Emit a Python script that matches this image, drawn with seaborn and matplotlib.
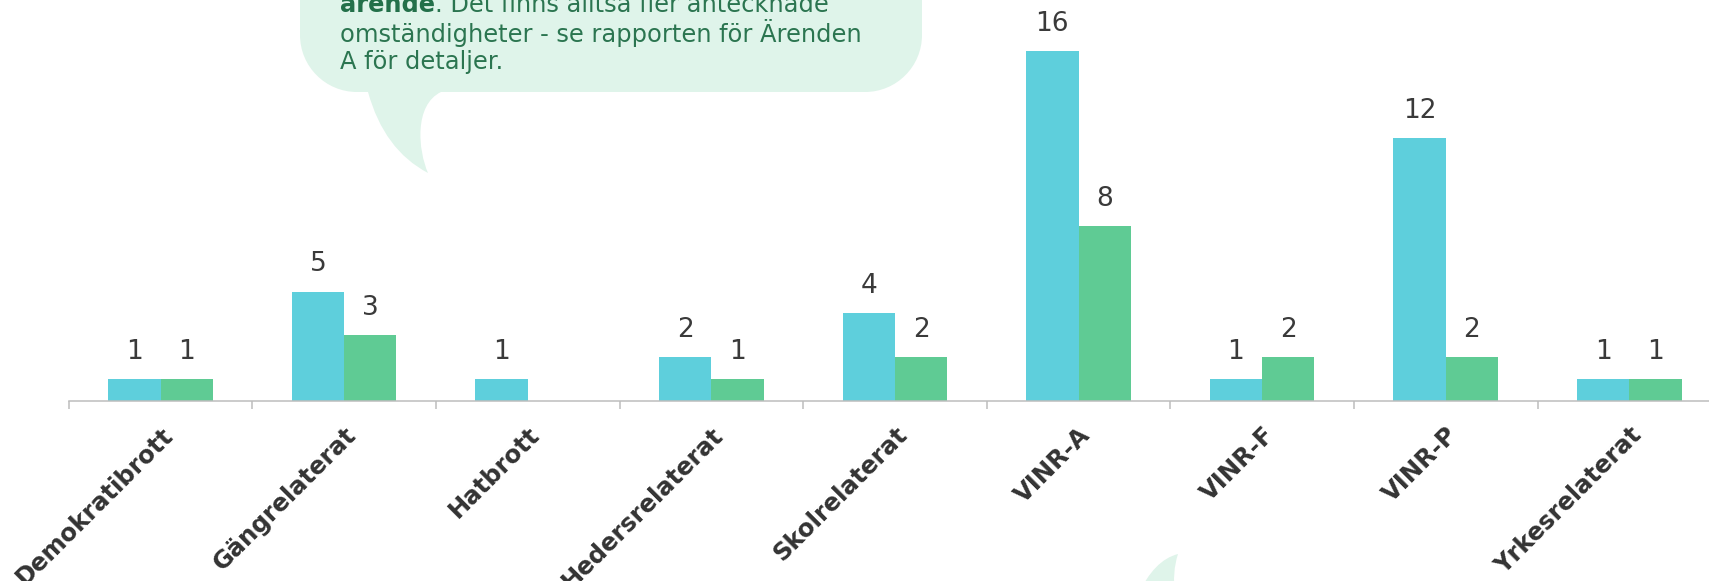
import numpy as np
import pandas as pd
import seaborn as sns
import matplotlib
matplotlib.use("Agg")
import matplotlib.pyplot as plt
from matplotlib.path import Path
from matplotlib.patches import PathPatch
from matplotlib.transforms import Affine2D
from matplotlib.text import Annotation

# ---- data ----
categories = ["Demokratibrott", "Gängrelaterat", "Hatbrott", "Hedersrelaterat",
              "Skolrelaterat", "VINR-A", "VINR-F", "VINR-P", "Yrkesrelaterat"]
series_names = ["Serie 1", "Serie 2"]
values_a = [1, 5, 1, 2, 4, 16, 1, 12, 1]
values_b = [1, 3, 0, 1, 2, 8, 2, 2, 1]
bubble_bold = "ärende"
bubble_line1_rest = ". Det finns alltså fler antecknade"
bubble_line2 = "omständigheter - se rapporten för Ärenden"
bubble_line3 = "A för detaljer."

# ---- style ----
CYAN = "#5ecfdc"
GREEN = "#5fcb94"
TXT = "#3a3a3a"
BUBBLE = "#dff4ea"
BUBBLE_TXT = "#2b7550"

sns.set_theme(style="white")
plt.rcParams["font.family"] = ["DejaVu Sans"]

W, H = 1709, 581
fig = plt.figure(figsize=(W / 100, H / 100), dpi=100)
n = len(categories)
ax = fig.add_axes([68.7 / W, 180 / H, n * 183.6 / W, 18 * 21.9 / H])

df = pd.DataFrame({
    "kategori": categories * 2,
    "serie": [series_names[0]] * n + [series_names[1]] * n,
    "antal": values_a + values_b,
})
sns.barplot(data=df, x="kategori", y="antal", hue="serie", palette=[CYAN, GREEN],
            width=0.57, dodge=True, legend=False, ax=ax, linewidth=0,
            saturation=1, errorbar=None)

ax.set_xlim(-0.5, n - 0.5)
ax.set_ylim(0, 18)
ax.set_xlabel("")
ax.set_ylabel("")
ax.set_yticks([])
for s in ["left", "top", "right"]:
    ax.spines[s].set_visible(False)
ax.spines["bottom"].set_color("#bdbdbd")
ax.spines["bottom"].set_linewidth(1.1)
ax.set_xticks(np.arange(n + 1) - 0.5, minor=True)
ax.tick_params(axis="x", which="minor", length=5.8, width=1.1, color="#bdbdbd", bottom=True)
ax.tick_params(axis="x", which="major", length=0, pad=15.5, bottom=True)
plt.setp(ax.get_xticklabels(), rotation=45, ha="right", va="top",
         rotation_mode="anchor", fontweight="bold", fontsize=17.5, color="#333333")

for cont in ax.containers:
    for bar in cont:
        h = bar.get_height()
        if h > 0:
            ax.annotate(f"{int(round(h))}", (bar.get_x() + bar.get_width() / 2, h),
                        xytext=(0, 19.5), textcoords="offset points",
                        ha="center", va="center", fontsize=19, color=TXT)

# ---- speech bubble (pixel coords, origin top-left) ----
tr = Affine2D().scale(1 / W, -1 / H).translate(0, 1) + fig.transFigure
k = 0.5523 * 57
verts = [
    (300, -200), (300, 35),
    (300, 35 + k), (357 - k, 92), (357, 92),
    (368, 92),
    (384, 150), (428, 173),
    (418, 150), (414, 105), (441, 92),
    (865, 92),
    (865 + k, 92), (922, 35 + k), (922, 35),
    (922, -200),
    (300, -200),
]
codes = [Path.MOVETO, Path.LINETO,
         Path.CURVE4, Path.CURVE4, Path.CURVE4,
         Path.LINETO,
         Path.CURVE3, Path.CURVE3,
         Path.CURVE4, Path.CURVE4, Path.CURVE4,
         Path.LINETO,
         Path.CURVE4, Path.CURVE4, Path.CURVE4,
         Path.LINETO,
         Path.CLOSEPOLY]
fig.patches.append(PathPatch(Path(verts, codes), facecolor=BUBBLE, edgecolor="none",
                             transform=tr, zorder=0))

verts2 = [(1178, 554), (1154, 560), (1138, 595), (1175, 595), (1172, 572), (1178, 554), (1178, 554)]
codes2 = [Path.MOVETO, Path.CURVE3, Path.CURVE3, Path.LINETO, Path.CURVE3, Path.CURVE3, Path.CLOSEPOLY]
fig.patches.append(PathPatch(Path(verts2, codes2), facecolor=BUBBLE, edgecolor="none",
                             transform=tr, zorder=0))

tx = 340
fs = 17.4
bt = fig.text(tx / W, 1 - 11.7 / H, bubble_bold, fontsize=fs, fontweight="bold",
              color="#23704a", va="baseline", ha="left", zorder=5)
rest = Annotation(bubble_line1_rest, xy=(1, 0), xycoords=bt, va="bottom", ha="left",
                  fontsize=fs, color=BUBBLE_TXT, annotation_clip=False, zorder=5)
fig.add_artist(rest)
fig.text(tx / W, 1 - 41.7 / H, bubble_line2, fontsize=fs, color=BUBBLE_TXT,
         va="baseline", ha="left", zorder=5)
fig.text(tx / W, 1 - 69.5 / H, bubble_line3, fontsize=fs, color=BUBBLE_TXT,
         va="baseline", ha="left", zorder=5)

fig.savefig("out.png", dpi=100, facecolor="white")
